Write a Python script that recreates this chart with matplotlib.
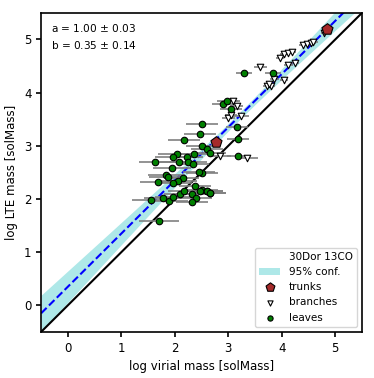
import numpy as np
import matplotlib
matplotlib.use("Agg")
import matplotlib.pyplot as plt

# ---- data (log virial mass, log LTE mass) ----
trunk_x = [2.77, 4.85]
trunk_y = [3.07, 5.19]
trunk_xerr = [0.05, 0.05]

branch_x = [4.78, 4.40, 4.48, 4.55, 4.59, 3.97, 4.04, 4.12, 4.19, 4.12, 4.25, 3.60,
            3.86, 4.04, 3.73, 3.80, 3.76, 3.09, 3.16, 3.00, 3.05, 3.24, 2.85, 3.35]
branch_y = [5.13, 4.89, 4.92, 4.94, 4.96, 4.66, 4.72, 4.74, 4.76, 4.51, 4.55, 4.48,
            4.25, 4.23, 4.12, 4.12, 4.16, 3.84, 3.75, 3.52, 3.58, 3.56, 2.81, 2.77]
branch_xerr = [0.05, 0.08, 0.08, 0.08, 0.08, 0.08, 0.08, 0.08, 0.08, 0.08, 0.08, 0.12,
               0.08, 0.08, 0.08, 0.08, 0.08, 0.12, 0.12, 0.12, 0.12, 0.15, 0.2, 0.2]

leaf_x = [3.30, 3.84, 2.90, 2.98, 3.05, 3.16, 3.18, 3.18, 2.51, 2.47, 2.51, 2.60,
          2.66, 2.51, 2.51, 2.60, 2.66, 2.17, 2.04, 1.97, 2.23, 2.36, 2.08, 2.25,
          2.34, 1.63, 1.95, 2.45, 1.84, 1.87, 2.15, 2.06, 1.97, 1.69, 1.55, 1.78,
          1.89, 1.97, 2.10, 2.17, 2.32, 2.40, 2.32, 2.38, 2.47, 2.60, 2.66, 1.70]
leaf_y = [4.36, 4.36, 3.78, 3.84, 3.69, 3.35, 3.13, 2.81, 3.41, 3.22, 3.00, 2.94,
          2.87, 2.49, 2.17, 2.15, 2.12, 3.11, 2.85, 2.79, 2.79, 2.85, 2.70, 2.70,
          2.66, 2.70, 2.58, 2.51, 2.45, 2.41, 2.40, 2.34, 2.30, 2.32, 1.98, 2.02,
          1.97, 2.04, 2.10, 2.15, 2.10, 2.02, 1.95, 2.25, 2.15, 2.15, 2.12, 1.59]
leaf_xerr = [0.15, 0.15, 0.2, 0.2, 0.2, 0.2, 0.2, 0.2, 0.3, 0.3, 0.3, 0.3,
             0.3, 0.3, 0.3, 0.3, 0.3, 0.3, 0.35, 0.35, 0.3, 0.3, 0.35, 0.35,
             0.3, 0.3, 0.35, 0.3, 0.35, 0.35, 0.3, 0.35, 0.35, 0.35, 0.35, 0.35,
             0.35, 0.35, 0.3, 0.3, 0.3, 0.3, 0.3, 0.3, 0.3, 0.3, 0.3, 0.37]

fit_a, fit_b = 1.00, 0.35
err_a, err_b = 0.03, 0.14

fig = plt.figure(figsize=(3.74, 3.78), dpi=100)
ax = fig.add_axes([0.110, 0.122, 0.858, 0.844])

xx = np.linspace(-0.5, 5.5, 200)
# 95% confidence band on the fitted line (narrowest near the data centroid)
half = np.sqrt(0.07**2 + (0.09 * (xx - 3.2))**2)
yfit = fit_a * xx + fit_b
ax.fill_between(xx, yfit - half, yfit + half, color='#aee8e8',
                lw=0, label='95% conf.', zorder=1)
ax.plot(xx, yfit, '--', color='blue', lw=1.5, zorder=2)
ax.plot([-0.5, 5.5], [-0.5, 5.5], '-', color='black', lw=1.5, zorder=2)

ax.errorbar(leaf_x, leaf_y, xerr=leaf_xerr, fmt='none', ecolor='gray', elinewidth=1.2, zorder=3)
ax.errorbar(branch_x, branch_y, xerr=branch_xerr, fmt='none', ecolor='gray', elinewidth=1.2, zorder=3)

ax.plot([], [], ' ', label='30Dor 13CO')
ax.scatter(trunk_x, trunk_y, marker='p', s=70, c='#a52a2a', edgecolors='black',
           linewidths=0.8, label='trunks', zorder=5)
ax.scatter(branch_x, branch_y, marker='v', s=22, c='white', edgecolors='black',
           linewidths=0.8, label='branches', zorder=4)
ax.scatter(leaf_x, leaf_y, marker='o', s=22, c='green', edgecolors='black',
           linewidths=0.8, label='leaves', zorder=4)

ax.set_xlim(-0.5, 5.5)
ax.set_ylim(-0.5, 5.5)
ax.set_xticks([0, 1, 2, 3, 4, 5])
ax.set_yticks([0, 1, 2, 3, 4, 5])
ax.tick_params(labelsize=8.5, width=1.2)
for s in ax.spines.values():
    s.set_linewidth(1.2)
ax.set_xlabel('log virial mass [solMass]', fontsize=8.5)
ax.set_ylabel('log LTE mass [solMass]', fontsize=8.5)

ax.text(0.03, 0.97, 'a = %.2f $\\pm$ %.2f\nb = %.2f $\\pm$ %.2f' % (fit_a, err_a, fit_b, err_b),
        transform=ax.transAxes, ha='left', va='top', fontsize=7.6, linespacing=1.5)

h, l = ax.get_legend_handles_labels()
order = [l.index(k) for k in ['30Dor 13CO', '95% conf.', 'trunks', 'branches', 'leaves']]
ax.legend([h[i] for i in order], [l[i] for i in order], loc='lower right', fontsize=7.5,
          markerscale=0.8)

fig.savefig('out.png', dpi=100)
